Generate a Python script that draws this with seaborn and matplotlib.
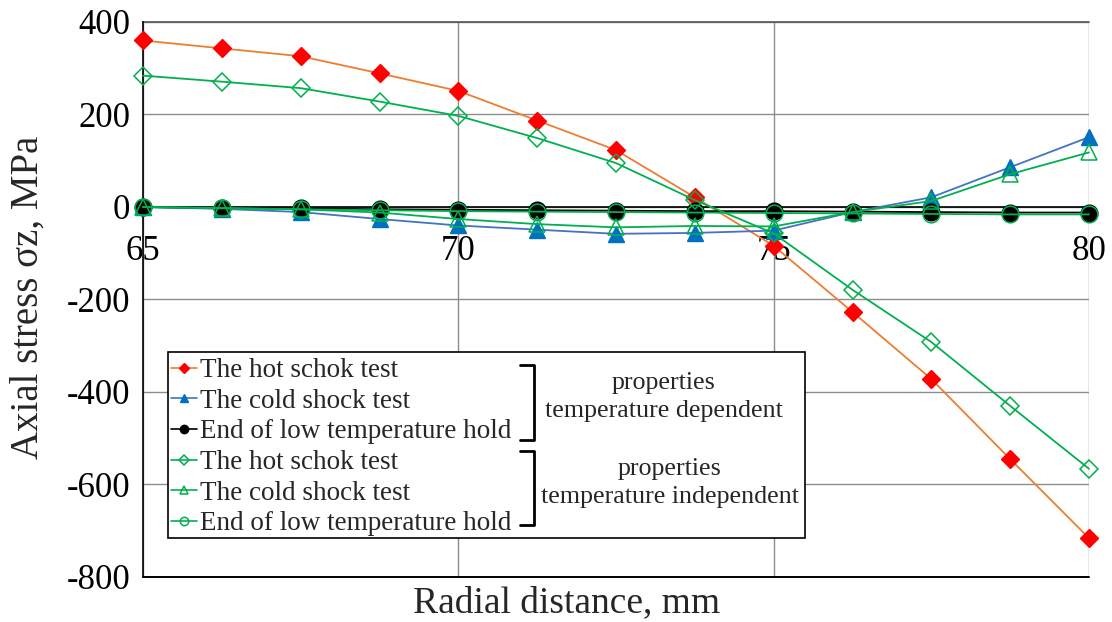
import matplotlib
matplotlib.use("Agg")
import matplotlib.pyplot as plt
from matplotlib.lines import Line2D
from matplotlib.patches import Rectangle
import seaborn as sns
import pandas as pd

# Radial positions (mm) and axial stress (MPa) for each load case
radial_mm = [65, 66.25, 67.5, 68.75, 70, 71.25, 72.5, 73.75, 75, 76.25, 77.5, 78.75, 80]

hot_dep = [360, 343, 326, 289, 251, 187, 123, 21, -84, -227, -372, -545, -716]
cold_dep = [0, -4, -11, -26, -40, -49, -58, -56, -51, -11, 21, 86, 151]
hold_dep = [0, -2, -3, -5, -6, -7, -8, -9, -9, -10, -11, -12, -12]

hot_ind = [284, 271, 257, 228, 197, 149, 95, 15, -57, -179, -292, -430, -566]
cold_ind = [0, -2, -5, -12, -26, -37, -44, -41, -42, -11, 13, 71, 118]
hold_ind = [0, -3, -5, -7, -9, -10, -11, -12, -13, -14, -15, -16, -16]

series_labels = ["The hot schok test", "The cold shock test", "End of low temperature hold"]
group_labels = ["properties\ntemperature dependent", "properties\ntemperature independent"]
x_ticks = [65, 70, 75, 80]
y_ticks = [-800, -600, -400, -200, 0, 200, 400]

sns.set_theme(style="white")
plt.rcParams["font.family"] = ["Liberation Serif", "DejaVu Serif"]
plt.rcParams["axes.unicode_minus"] = False

fig = plt.figure(figsize=(11.12, 6.22), dpi=100)
ax = fig.add_axes([143 / 1112, 1 - 577 / 622, (1089 - 143) / 1112, (577 - 22) / 622])

green = "#00B050"
styles = [
    (hot_dep, dict(color="#ED7D31", marker="D", markersize=9.5, markerfacecolor="#FF0000",
                   markeredgecolor="#FF0000", markeredgewidth=1)),
    (cold_dep, dict(color="#4472C4", marker="^", markersize=11, markerfacecolor="#0070C0",
                    markeredgecolor="#0070C0", markeredgewidth=1)),
    (hold_dep, dict(color="black", marker="o", markersize=12, markerfacecolor="black",
                    markeredgecolor="black", markeredgewidth=1)),
    (hot_ind, dict(color=green, marker="D", markersize=9.5, markerfacecolor="none",
                   markeredgecolor=green, markeredgewidth=1.1)),
    (cold_ind, dict(color=green, marker="^", markersize=11, markerfacecolor="none",
                    markeredgecolor=green, markeredgewidth=1.1)),
    (hold_ind, dict(color=green, marker="o", markersize=12, markerfacecolor="none",
                    markeredgecolor=green, markeredgewidth=1.1)),
]

handles = []
for i, (vals, kw) in enumerate(styles):
    df = pd.DataFrame({"r": radial_mm, "s": vals})
    sns.lineplot(data=df, x="r", y="s", ax=ax, linewidth=1.3, clip_on=False,
                 errorbar=None, sort=False, zorder=3 + i, **kw)
    hk = dict(kw)
    hk["markersize"] = kw["markersize"] * 0.5
    handles.append(Line2D([], [], linewidth=1.2, **hk))

ax.set_xlim(65, 80)
ax.set_ylim(-800, 400)
ax.set_xticks(x_ticks)
ax.set_yticks(y_ticks)
ax.set_xlabel("")
ax.set_ylabel("")

# grid and frame
ax.grid(True, color="#8c8c8c", linewidth=1.0)
ax.set_axisbelow(True)
for side in ["top", "right"]:
    ax.spines[side].set_visible(False)
ax.spines["left"].set_color("black")
ax.spines["left"].set_linewidth(1.2)
ax.spines["bottom"].set_position(("data", 0))
ax.spines["bottom"].set_color("black")
ax.spines["bottom"].set_linewidth(1.2)
ax.axhline(-800, color="black", linewidth=1.4, clip_on=False, zorder=2)
ax.axhline(400, color="#555555", linewidth=1.2, clip_on=False, zorder=2)
ax.tick_params(axis="both", length=0, labelsize=25, colors="black")
ax.tick_params(axis="y", pad=9)
ax.tick_params(axis="x", pad=20)

fig.text(567 / 1112, 1 - 603 / 622, "Radial distance, mm", ha="center", va="center", fontsize=27)
fig.text(28 / 1112, 1 - 297 / 622, "Axial stress σz, MPa", ha="center", va="center",
         rotation=90, fontsize=28)

# legend box with grouped entries
box = Rectangle((168 / 1112, 1 - 538 / 622), (805 - 168) / 1112, (538 - 352) / 622,
                transform=fig.transFigure, facecolor="white", edgecolor="black",
                linewidth=1.2, zorder=20)
fig.patches.append(box)

leg = fig.legend(handles, series_labels + series_labels, loc="upper left",
                 bbox_to_anchor=(171 / 1112, 1 - 358 / 622), frameon=False,
                 fontsize=19.5, labelspacing=0.21, handlelength=0.95, handletextpad=0.12,
                 borderpad=0.0, borderaxespad=0.0)
leg.set_zorder(21)

for top, bot in [(365, 440), (451, 525)]:
    xs = [520 / 1112, 534 / 1112, 534 / 1112, 520 / 1112]
    ys = [1 - top / 622, 1 - top / 622, 1 - bot / 622, 1 - bot / 622]
    fig.add_artist(Line2D(xs, ys, transform=fig.transFigure, color="black",
                          linewidth=2.0, zorder=22))

fig.text(664 / 1112, 1 - 397 / 622, group_labels[0], ha="center", va="center",
         fontsize=18.7, linespacing=1.3, zorder=22)
fig.text(670 / 1112, 1 - 483 / 622, group_labels[1], ha="center", va="center",
         fontsize=18.7, linespacing=1.3, zorder=22)

fig.savefig("out.png", dpi=100)
